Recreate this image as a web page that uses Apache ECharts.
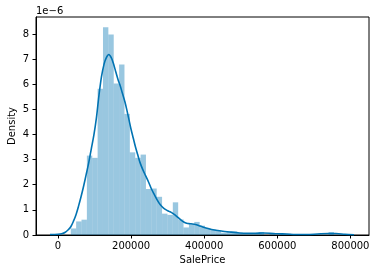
<!DOCTYPE html>
<html>
<head>
<meta charset="utf-8">
<script src="https://cdn.jsdelivr.net/npm/echarts@6/dist/echarts.min.js"></script>
<style>
  html, body { margin: 0; padding: 0; background: #fff; }
  #main { width: 376px; height: 273px; }
</style>
</head>
<body>
<div id="main"></div>
<script>
// histogram bins: 49 bins from min SalePrice, density in units of 1e-6
var binStart = 34900;
var binWidth = 14696;
var binDensity = [
  0.26, 0.54, 0.61, 3.16, 3.07, 5.82, 8.27, 7.98, 6.03, 6.78,
  4.82, 3.29, 3.07, 3.20, 1.83, 1.85, 1.52, 0.85, 0.80, 1.30,
  0.62, 0.30, 0.43, 0.52, 0.37, 0.28, 0.22, 0.18, 0.09, 0.14,
  0.14, 0.09, 0.05, 0.05, 0.05, 0.12, 0.00, 0.05, 0.00, 0.05,
  0.05, 0.00, 0.00, 0.00, 0.00, 0.00, 0.00, 0.00, 0.12
];

// kde curve
var kdeX = [-22000, 0, 10000, 20000, 28000, 35000, 42000, 49000, 56000, 63000,
  70000, 77000, 84000, 91000, 98000, 105000, 112000, 119000, 126000, 132000,
  139000, 146000, 151000, 158000, 165000, 170000, 176000, 183000, 188000, 194000,
  200000, 206000, 212000, 218000, 224000, 232000, 240000, 248000, 256000, 264000,
  272000, 280000, 288000, 296000, 304000, 312000, 320000, 328000, 336000, 344000,
  352000, 360000, 368000, 376000, 386000, 396000, 405000, 415000, 424000, 442000,
  470000, 497000, 520000, 540000, 560000, 580000, 600000, 625000, 650000, 680000,
  710000, 740000, 760000, 785000, 810000];
var kdeY = [0.02, 0.03, 0.05, 0.11, 0.21, 0.33, 0.54, 0.80, 1.14, 1.52,
  1.94, 2.40, 2.87, 3.42, 3.96, 4.65, 5.55, 6.30, 6.80, 7.05,
  7.18, 7.05, 6.85, 6.50, 6.15, 5.95, 5.65, 5.30, 5.00, 4.60,
  4.20, 3.85, 3.50, 3.20, 2.90, 2.60, 2.35, 2.10, 1.82, 1.60,
  1.38, 1.20, 1.08, 1.00, 0.94, 0.88, 0.80, 0.70, 0.60, 0.52,
  0.47, 0.45, 0.44, 0.42, 0.37, 0.32, 0.28, 0.24, 0.21, 0.17,
  0.12, 0.08, 0.07, 0.07, 0.08, 0.07, 0.05, 0.04, 0.02, 0.02,
  0.04, 0.06, 0.06, 0.03, 0.01];

var xTicks = [0, 200000, 400000, 600000, 800000];
var yTicks = [0, 1, 2, 3, 4, 5, 6, 7, 8];

var font = 'DejaVu Sans';
var histData = binDensity.map(function (d, i) {
  return [binStart + i * binWidth, binStart + (i + 1) * binWidth, d];
});
var kdeData = kdeX.map(function (x, i) { return [x, kdeY[i]]; });

var chart = echarts.init(document.getElementById('main'));
chart.setOption({
  animation: false,
  textStyle: { fontFamily: font },
  graphic: [{
    type: 'text', left: 36, top: 6,
    style: { text: '1e\u22126', fontSize: 10, fontFamily: font, fill: '#000' }
  }],
  grid: {
    left: 36, top: 17, width: 333, height: 218,
    outerBoundsMode: 'none',
    show: true, borderColor: '#000', borderWidth: 1, backgroundColor: 'transparent'
  },
  xAxis: {
    type: 'value', min: -60200, max: 850900,
    name: 'SalePrice', nameLocation: 'middle', nameGap: 20, nameMoveOverlap: false,
    nameTextStyle: { fontSize: 10, color: '#000', fontFamily: font },
    axisLine: { show: true, onZero: false, lineStyle: { color: '#000', width: 1 } },
    axisTick: { show: true, length: 3.5, customValues: xTicks, lineStyle: { color: '#000' } },
    axisLabel: {
      customValues: xTicks, margin: 6, fontSize: 10, color: '#000', fontFamily: font,
      formatter: function (v) { return String(v); }
    },
    splitLine: { show: false }
  },
  yAxis: {
    type: 'value', min: 0, max: 8.675,
    name: 'Density', nameLocation: 'middle', nameGap: 19, nameRotate: 90, nameMoveOverlap: false,
    nameTextStyle: { fontSize: 10, color: '#000', fontFamily: font },
    axisLine: { show: true, onZero: false, lineStyle: { color: '#000', width: 1 } },
    axisTick: { show: true, length: 3.5, customValues: yTicks, lineStyle: { color: '#000' } },
    axisLabel: {
      customValues: yTicks, margin: 7, fontSize: 10, color: '#000', fontFamily: font,
      formatter: function (v) { return String(v); }
    },
    splitLine: { show: false }
  },
  series: [{
    type: 'custom',
    data: histData,
    encode: { x: [0, 1], y: 2 },
    renderItem: function (params, api) {
      var p0 = api.coord([api.value(0), api.value(2)]);
      var p1 = api.coord([api.value(1), 0]);
      return {
        type: 'rect',
        shape: { x: p0[0], y: p0[1], width: p1[0] - p0[0], height: p1[1] - p0[1] },
        style: { fill: 'rgba(1,115,178,0.4)' }
      };
    }
  }, {
    type: 'line',
    data: kdeData,
    smooth: 0.3,
    showSymbol: false,
    lineStyle: { color: '#0173b2', width: 1.6 },
    z: 3
  }]
});
</script>
</body>
</html>
